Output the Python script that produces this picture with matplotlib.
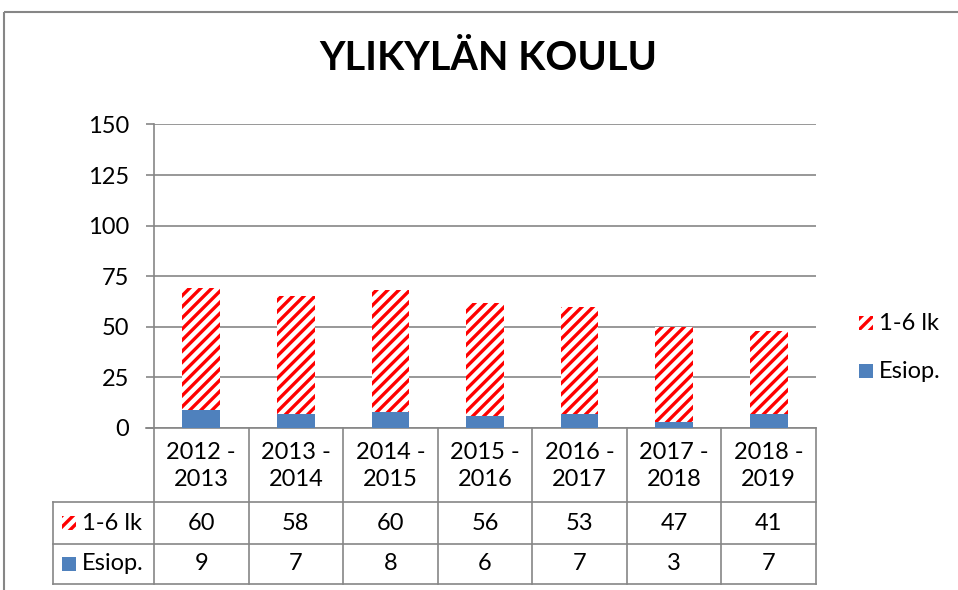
import matplotlib.pyplot as plt
from matplotlib.patches import Rectangle
from matplotlib.lines import Line2D

# data
years = ['2012 -\n2013', '2013 -\n2014', '2014 -\n2015', '2015 -\n2016',
         '2016 -\n2017', '2017 -\n2018', '2018 -\n2019']
esiop = [9, 7, 8, 6, 7, 3, 7]
lk16 = [60, 58, 60, 56, 53, 47, 41]
series_names = ['1-6 lk', 'Esiop.']

blue = '#4F81BD'
red = '#FF0000'
grid = '#868686'

plt.rcParams['font.family'] = ['Lato', 'DejaVu Sans']
plt.rcParams['hatch.linewidth'] = 2.4

W, H = 958, 590
fig = plt.figure(figsize=(W / 100, H / 100), dpi=100)

# pixel layout of the plot area
px_left, px_right = 154, 816
px_top, px_bottom = 124.5, 428
ax = fig.add_axes([px_left / W, 1 - px_bottom / H,
                   (px_right - px_left) / W, (px_bottom - px_top) / H])

x = list(range(len(years)))
ax.bar(x, esiop, width=0.4, color=blue, linewidth=0, zorder=3)
ax.bar(x, lk16, width=0.4, bottom=esiop, facecolor='white', edgecolor=red,
       hatch='///', linewidth=0, zorder=3)

ax.set_xlim(-0.5, len(years) - 0.5)
ax.set_ylim(0, 150)
ax.set_yticks(range(0, 151, 25))
ax.yaxis.grid(True, color=grid, linewidth=1.2)
ax.set_axisbelow(True)
ax.set_xticks([])
ax.tick_params(axis='y', length=6, width=1.2, color=grid, pad=12, labelsize=17)
for s in ['top', 'right']:
    ax.spines[s].set_visible(False)
for s in ['left', 'bottom']:
    ax.spines[s].set_color(grid)
    ax.spines[s].set_linewidth(1.2)

# overlays in pixel coordinates for table, legend and frame
ov = fig.add_axes([0, 0, 1, 1], zorder=-1)
ov.set_xlim(0, W)
ov.set_ylim(H, 0)
ov.axis('off')
top_ov = fig.add_axes([0, 0, 1, 1], zorder=5)
top_ov.set_xlim(0, W)
top_ov.set_ylim(H, 0)
top_ov.axis('off')
top_ov.patch.set_alpha(0)

# outer chart frame
ov.add_patch(Rectangle((4, 12), 1200, 800, fill=False, edgecolor=grid, linewidth=1.5))

ov.text(488, 70, 'YLIKYLÄN KOULU', ha='center', va='baseline',
        fontsize=28.5, fontweight='bold')

# data table
cat_w = (px_right - px_left) / len(years)
tbl_left = 53
row_y = [px_bottom, 502, 544, 584]
lk = dict(color=grid, linewidth=1.2)
top_ov.add_line(Line2D([px_left - 8, px_left], [px_bottom, px_bottom], **lk))
for yy in row_y[1:]:
    top_ov.add_line(Line2D([tbl_left, px_right], [yy, yy], **lk))
top_ov.add_line(Line2D([tbl_left, tbl_left], [row_y[1], row_y[3]], **lk))
for i in range(len(years) + 1):
    xx = px_left + i * cat_w
    top_ov.add_line(Line2D([xx, xx], [px_bottom, row_y[3]], **lk))

for i, (yr, a, b) in enumerate(zip(years, lk16, esiop)):
    cx = px_left + (i + 0.5) * cat_w
    top_ov.text(cx, (row_y[0] + row_y[1]) / 2 + 1, yr, ha='center', va='center',
                fontsize=17, linespacing=1.3)
    top_ov.text(cx, (row_y[1] + row_y[2]) / 2, str(a), ha='center', va='center', fontsize=17)
    top_ov.text(cx, (row_y[2] + row_y[3]) / 2, str(b), ha='center', va='center', fontsize=17)


def key(axo, x0, yc, name, hatched):
    if hatched:
        axo.add_patch(Rectangle((x0, yc - 7), 14, 14, facecolor='white', edgecolor=red,
                                hatch='///', linewidth=0))
    else:
        axo.add_patch(Rectangle((x0, yc - 7), 14, 14, facecolor=blue, linewidth=0))
    axo.text(x0 + 20, yc, name, ha='left', va='center', fontsize=17)


# table row keys
key(top_ov, 62, (row_y[1] + row_y[2]) / 2, series_names[0], True)
key(top_ov, 62, (row_y[2] + row_y[3]) / 2, series_names[1], False)

# legend
key(top_ov, 859, 323, series_names[0], True)
key(top_ov, 859, 371, series_names[1], False)

fig.savefig('out.png', dpi=100)
